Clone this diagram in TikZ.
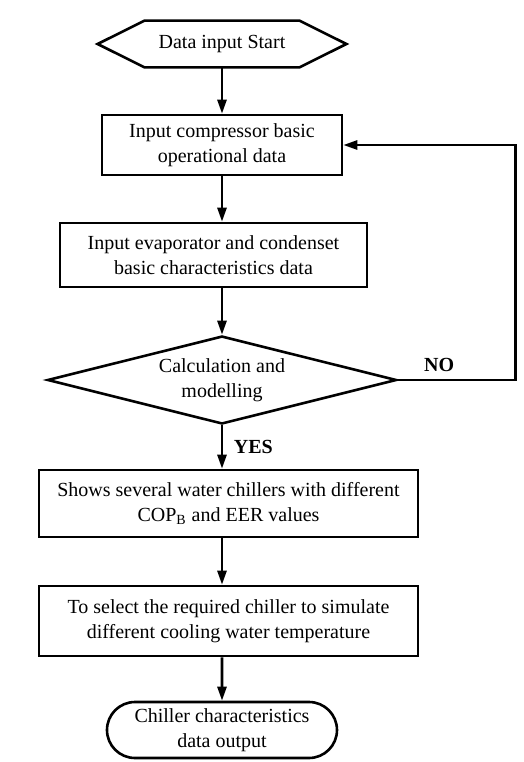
\documentclass[tikz,border=0pt]{standalone}
\usepackage{fontspec}
\setmainfont{Liberation Serif}
\usetikzlibrary{shapes.geometric, shapes.misc, arrows.meta}
\tikzstyle{process} = [rectangle, draw, line width=1.3pt, align=center, text centered, inner sep=2pt]
\tikzstyle{startend} = [rectangle, align=center, inner sep=2pt]
\tikzstyle{decision} = [diamond, draw, line width=1.3pt, align=center, aspect=4, inner sep=0pt]
\tikzstyle{terminal} = [rounded rectangle, draw, line width=1.3pt, align=center, inner sep=2pt]
\tikzstyle{arrow} = [line width=1.3pt, -{Triangle[length=7pt,width=4.5pt]}]

\begin{document}
\begin{tikzpicture}[font=\fontsize{10}{12.5}\selectfont]

\useasboundingbox (-111pt,22pt) rectangle (151pt,-359pt);

% Start (hexagon)
\node (St) [startend, minimum width=77pt, minimum height=23pt] {Data input Start};
\draw [line width=1.3pt, line join=miter] (St.north west) -- (St.north east) -- ([xshift=23.5pt]St.east) -- (St.south east) -- (St.south west) -- ([xshift=-23.5pt]St.west) -- cycle;

% Input steps
\node (S1) [process, minimum width=120pt, minimum height=30pt, below of=St, node distance=50.5pt] {Input compressor basic\\operational data};
\node (S2) [process, minimum width=153.5pt, minimum height=32pt, below of=S1, node distance=55pt, xshift=-4.25pt] {Input evaporator and condenset\\basic characteristics data};

% Decision
\node (D) [decision, minimum width=174.5pt, minimum height=44pt, below of=S1, node distance=117.5pt] {Calculation and\\modelling};

% Output steps
\node (S3) [process, minimum width=189.5pt, minimum height=33.5pt, below of=D, node distance=61.75pt, xshift=3.25pt] {Shows several water chillers with different\\COP\textsubscript{B} and EER values};
\node (S4) [process, minimum width=189.5pt, minimum height=35pt, below of=S3, node distance=58.75pt] {To select the required chiller to simulate\\different cooling water temperature};
\node (E) [terminal, minimum width=119pt, minimum height=28pt, below of=D, node distance=175pt] {Chiller characteristics\\data output};

% Connecting arrows
\draw [arrow] (St) -- (S1);
\draw [arrow] (S1) -- (S1 |- S2.north);
\draw [arrow] (S1 |- S2.south) -- (D);
\draw [arrow] (D) -- node[right, xshift=2pt] {\textbf{YES}} (D |- S3.north);
\draw [arrow] (D |- S3.south) -- (D |- S4.north);
\draw [arrow] (D |- S4.south) -- (E);
\draw [arrow] (D.east) -- node[above, pos=0.35] {\textbf{NO}} ++(59pt,0) |- (S1.east);

\end{tikzpicture}
\end{document}
